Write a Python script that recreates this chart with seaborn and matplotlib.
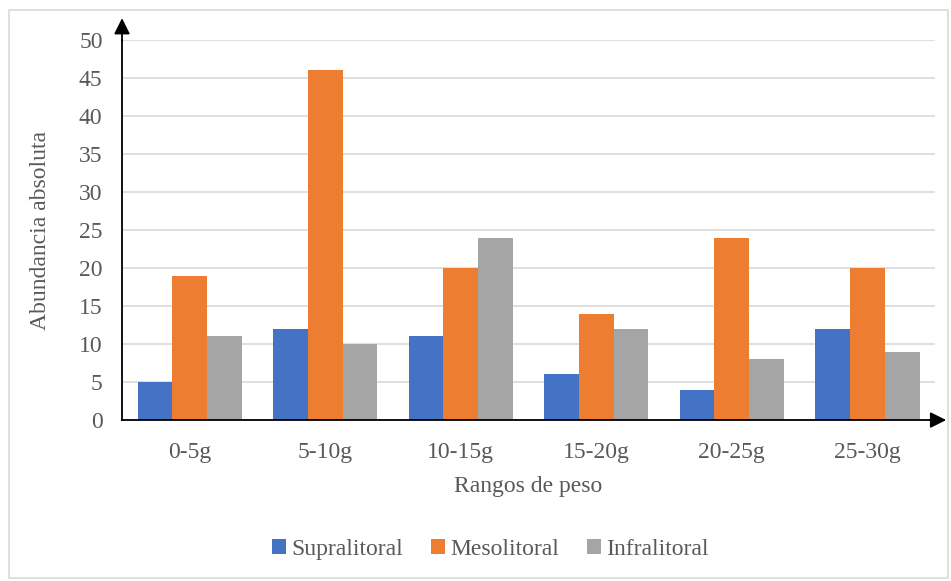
import pandas as pd
import seaborn as sns
import matplotlib.pyplot as plt
from matplotlib.patches import Rectangle

# datos
rangos = ['0-5g', '5-10g', '10-15g', '15-20g', '20-25g', '25-30g']
supralitoral = [5, 12, 11, 6, 4, 12]
mesolitoral = [19, 46, 20, 14, 24, 20]
infralitoral = [11, 10, 24, 12, 8, 9]
zonas = ['Supralitoral', 'Mesolitoral', 'Infralitoral']
colores = ['#4472C4', '#ED7D31', '#A5A5A5']

data = pd.DataFrame({
    'Rango': rangos * 3,
    'Zona': [z for z in zonas for _ in rangos],
    'Abundancia': supralitoral + mesolitoral + infralitoral,
})

sns.set_style('white')
plt.rcParams['font.family'] = ['Liberation Serif', 'DejaVu Serif']

fig = plt.figure(figsize=(9.51, 5.81), dpi=100)
ax = fig.add_axes([0.1283, 0.277, 0.855, 0.654])

sns.barplot(data=data, x='Rango', y='Abundancia', hue='Zona', palette=colores,
            width=0.77, saturation=1, linewidth=0, ax=ax, legend=True)

ax.set_ylim(0, 50)
ax.set_xlim(-0.5, 5.5)
ax.set_yticks(range(0, 51, 5))
ax.yaxis.grid(True, color='#D9D9D9', linewidth=1.2)
ax.set_axisbelow(True)
ax.tick_params(length=0, labelsize=17, colors='#595959', pad=14)
ax.tick_params(axis='x', pad=16)
for s in ['top', 'right']:
    ax.spines[s].set_visible(False)
for s in ['left', 'bottom']:
    ax.spines[s].set_color('black')
    ax.spines[s].set_linewidth(1.3)

# flechas de los ejes
ax.annotate('', xy=(0, 1.065), xytext=(0, 0.99), xycoords='axes fraction',
            arrowprops=dict(arrowstyle='-|>', color='black', lw=1.3, mutation_scale=24),
            annotation_clip=False)
ax.annotate('', xy=(1.017, 0), xytext=(0.99, 0), xycoords='axes fraction',
            arrowprops=dict(arrowstyle='-|>', color='black', lw=1.3, mutation_scale=24),
            annotation_clip=False)

ax.set_xlabel('Rangos de peso', fontsize=17, color='#595959', labelpad=9)
ax.set_ylabel('Abundancia absoluta', fontsize=17, color='#595959', labelpad=20)

ax.legend(loc='center', bbox_to_anchor=(0.453, -0.34), ncol=3, frameon=False,
          fontsize=17, labelcolor='#595959', handlelength=0.6, handleheight=0.6,
          handletextpad=0.2, columnspacing=1.2)

# marco del grafico
fig.patches.append(Rectangle((0.009, 0.005), 0.988, 0.978, transform=fig.transFigure,
                             fill=False, edgecolor='#D9D9D9', linewidth=1.2))

plt.savefig('out.png', dpi=100)
